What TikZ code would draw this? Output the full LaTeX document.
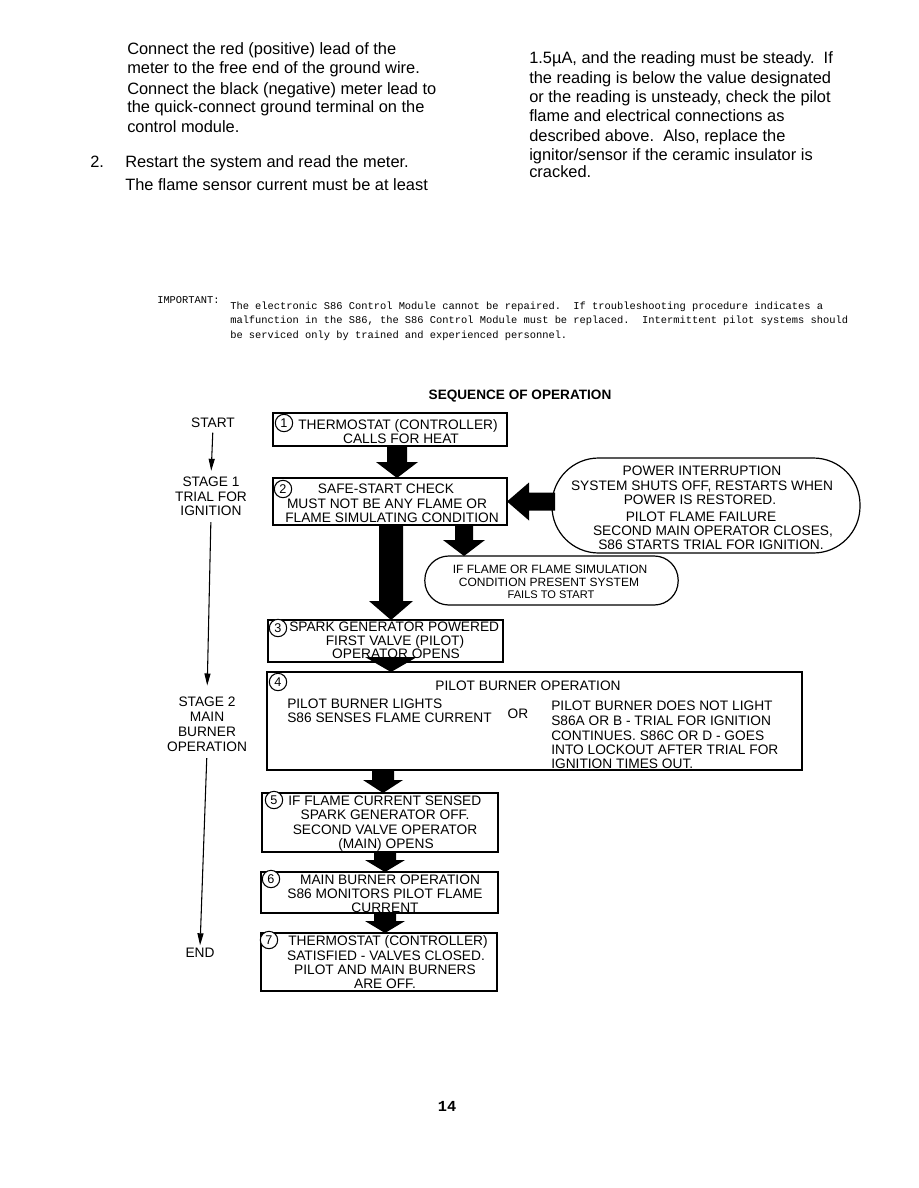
\documentclass[tikz,border=0pt]{standalone}
\usepackage{fontspec}
\setmainfont{Liberation Sans}
\newfontfamily\monofont{Liberation Mono}
\usetikzlibrary{calc,arrows.meta}
\newcommand\varrow[6]{%
  \fill ($(#1,0 |- #2)+(-#4,0)$) -- ($(#1,0 |- #2)+(#4,0)$) -- ($(#1,0 |- #3)+(#4,-#6)$) -- ($(#1,0 |- #3)+(#5,-#6)$) -- (#1,0 |- #3) -- ($(#1,0 |- #3)+(-#5,-#6)$) -- ($(#1,0 |- #3)+(-#4,-#6)$) -- cycle;}
\newcommand\boxat[5]{%
  \node[box, anchor=north west, minimum width={(#4-#2)*0.75pt}, minimum height={(#5-#3)*0.75pt}] (#1) at (#2,#3) {};}
\begin{document}
\begin{tikzpicture}[x=0.75pt,y=-0.75pt,
  box/.style={draw, line width=0.9pt, inner sep=0pt, outer sep=0pt, fill=white},
  ft/.style={font=\fontsize{10.3}{12}\selectfont, inner sep=0pt, anchor=base},
  ftw/.style={ft, anchor=base west},
  sft/.style={font=\fontsize{9}{10}\selectfont, inner sep=0pt, anchor=base},
  para/.style={font=\fontsize{12.3}{14}\selectfont, inner sep=0pt, anchor=base west},
  mono/.style={font=\monofont\fontsize{7.8}{9}\selectfont, inner sep=0pt, anchor=base west},
  circ/.style={draw, circle, line width=0.8pt, minimum size=13pt, inner sep=0pt, fill=white, font=\fontsize{9.5}{9.5}\selectfont},
  oval/.style={draw, line width=0.9pt, inner sep=0pt, outer sep=0pt, fill=white},
  thin/.style={line width=0.8pt, -{Triangle[length=9pt,width=4.5pt]}}
]
\path[use as bounding box] (0,0) rectangle (918,1188);

% ---- top paragraphs
\node[para] (p1) at (127,55) {Connect the red (positive) lead of the};
\node[para] (p2) at (127,74) {meter to the free end of the ground wire.};
\node[para] (p3) at (127,94) {Connect the black (negative) meter lead to};
\node[para] (p4) at (127,113) {the quick-connect ground terminal on the};
\node[para] (p5) at (127,132) {control module.};
\node[para] (n2) at (90,167) {2.};
\node[para] (p6) at (125,167) {Restart the system and read the meter.};
\node[para] (p7) at (125,190) {The flame sensor current must be at least};
\node[para] (q1) at (529,64) {1.5µA, and the reading must be steady.\ \ If};
\node[para] (q2) at (529,84) {the reading is below the value designated};
\node[para] (q3) at (529,103) {or the reading is unsteady, check the pilot};
\node[para] (q4) at (529,122) {flame and electrical connections as};
\node[para] (q5) at (529,141) {described above.\ \ Also, replace the};
\node[para] (q6) at (529,160) {ignitor/sensor if the ceramic insulator is};
\node[para] (q7) at (529,177) {cracked.};

% ---- important note
\node[mono] (imp) at (157,303) {IMPORTANT:};
\node[mono] (i1) at (230,309) {The electronic S86 Control Module cannot be repaired.\ \ If troubleshooting procedure indicates a};
\node[mono] (i2) at (230,323.5) {malfunction in the S86, the S86 Control Module must be replaced.\ \ Intermittent pilot systems should};
\node[mono] (i3) at (230,338) {be serviced only by trained and experienced personnel.};

% ---- title
\node[ft, font=\bfseries\fontsize{10.2}{12}\selectfont] (title) at (520,399) {SEQUENCE OF OPERATION};

% ---- stage labels
\node[ft] (start) at (213,427) {START};
\node[ft] (s1a) at (211,486) {STAGE 1};
\node[ft] (s1b) at (211,501) {TRIAL FOR};
\node[ft] (s1c) at (211,515) {IGNITION};
\node[ft] (s2a) at (207,706) {STAGE 2};
\node[ft] (s2b) at (207,721) {MAIN};
\node[ft] (s2c) at (207,736) {BURNER};
\node[ft] (s2d) at (207,751) {OPERATION};
\node[ft] (endn) at (200,957) {END};
\draw[thin, shorten <=4pt, shorten >=4pt] (start.south) -- (s1a.north);
\draw[thin, shorten <=5pt, shorten >=8pt] (s1c.south) -- (s2a.north);
\draw[thin, shorten <=5pt, shorten >=1.5pt] (s2d.south) -- (endn.north);

% ---- boxes
\boxat{b1}{273}{413}{507}{446}
\boxat{b2}{273}{478}{507}{525}
\boxat{b3}{268}{620}{503}{662}
\boxat{b4}{267}{672}{802}{770}
\boxat{b5}{262}{793}{498}{852}
\boxat{b6}{261}{872}{498}{913}
\boxat{b7}{261}{933}{497}{991}

% arrow head 3 -> 4 (behind text)
\fill ($(b4.north -| 391,0)+(-26,-15)$) -- ($(b4.north -| 391,0)+(26,-15)$) -- (b4.north -| 391,0) -- cycle;

% ---- ovals
\node[oval, rounded corners=35pt, minimum width=231pt, minimum height=71.25pt] (ov) at (706,505.5) {};
\node[oval, rounded corners=18pt, minimum width=190pt, minimum height=36.75pt] (sov) at (551.5,580.5) {};

% ---- circles
\node[circ] (c1) at (284,423) {1};
\node[circ] (c2) at (283,489) {2};
\node[circ] (c3) at (278,628) {3};
\node[circ] (c4) at (278,682) {4};
\node[circ] (c5) at (274,800) {5};
\node[circ] (c6) at (271,879) {6};
\node[circ] (c7) at (269,940) {7};

% ---- box texts
\node[ft] (t1a) at (398,429) {THERMOSTAT (CONTROLLER)};
\node[ft] (t1b) at (401,443) {CALLS FOR HEAT};
\node[ft] (t2a) at (386,493) {SAFE-START CHECK};
\node[ft] (t2b) at (387,508) {MUST NOT BE ANY FLAME OR};
\node[ft] (t2c) at (392,522) {FLAME SIMULATING CONDITION};
\node[ftw] (t3a) at (289,631) {SPARK GENERATOR POWERED};
\node[ft] (t3b) at (395,645) {FIRST VALVE (PILOT)};
\node[ft] (t3c) at (396,658) {OPERATOR OPENS};
\node[ft] (t4a) at (528,690) {PILOT BURNER OPERATION};
\node[ftw] (t4b) at (287,708) {PILOT BURNER LIGHTS};
\node[ftw] (t4c) at (287,722) {S86 SENSES FLAME CURRENT};
\node[ft] (t4or) at (518,718) {OR};
\node[ftw] (t4d) at (551,710) {PILOT BURNER DOES NOT LIGHT};
\node[ftw] (t4e) at (551,725) {S86A OR B - TRIAL FOR IGNITION};
\node[ftw] (t4f) at (551,740) {CONTINUES. S86C OR D - GOES};
\node[ftw] (t4g) at (551,754) {INTO LOCKOUT AFTER TRIAL FOR};
\node[ftw] (t4h) at (551,768) {IGNITION TIMES OUT.};
\node[ftw] (t5a) at (288,805) {IF FLAME CURRENT SENSED};
\node[ft] (t5b) at (385,819) {SPARK GENERATOR OFF.};
\node[ft] (t5c) at (385,834) {SECOND VALVE OPERATOR};
\node[ft] (t5d) at (386,848) {(MAIN) OPENS};
\node[ft] (t6a) at (390,884) {MAIN BURNER OPERATION};
\node[ft] (t6b) at (385,898) {S86 MONITORS PILOT FLAME};
\node[ft] (t6c) at (385,912) {CURRENT};
\node[ft] (t7a) at (388,945) {THERMOSTAT (CONTROLLER)};
\node[ft] (t7b) at (386,960) {SATISFIED - VALVES CLOSED.};
\node[ft] (t7c) at (385,974) {PILOT AND MAIN BURNERS};
\node[ft] (t7d) at (385,988) {ARE OFF.};

% ---- oval texts
\node[ft] (o1) at (702,475) {POWER INTERRUPTION};
\node[ft] (o2) at (702,490) {SYSTEM SHUTS OFF, RESTARTS WHEN};
\node[ft] (o3) at (700,504) {POWER IS RESTORED.};
\node[ft] (o4) at (701,521) {PILOT FLAME FAILURE};
\node[ft] (o5) at (713,535) {SECOND MAIN OPERATOR CLOSES,};
\node[ft] (o6) at (711,549) {S86 STARTS TRIAL FOR IGNITION.};
\node[sft] (so1) at (550,573) {IF FLAME OR FLAME SIMULATION};
\node[sft] (so2) at (549,586) {CONDITION PRESENT SYSTEM};
\node[sft, font=\fontsize{8.3}{9}\selectfont] (so3) at (551,598) {FAILS TO START};

% ---- thick arrows
\varrow{397}{b1.south}{b2.north}{10}{21}{16}
\varrow{391}{b2.south}{b3.north}{12}{22}{19}
\varrow{464}{b2.south}{sov.north}{9}{21}{16}
\varrow{383}{b4.south}{b5.north}{11}{20}{13}
\varrow{385}{b5.south}{b6.north}{11}{20}{12}
\varrow{385}{b6.south}{b7.north}{11}{20}{12}
\fill (b2.east) -- ($(b2.east)+(22,-19)$) -- ($(b2.east)+(22,-9)$) -- ($(b2.east -| ov.west)+(3,-9)$) -- ($(b2.east -| ov.west)+(3,9)$) -- ($(b2.east)+(22,9)$) -- ($(b2.east)+(22,19)$) -- cycle;

% ---- page number
\node[ft, font=\monofont\bfseries\fontsize{11.5}{12}\selectfont] (pg) at (447,1111) {14};
\end{tikzpicture}
\end{document}
